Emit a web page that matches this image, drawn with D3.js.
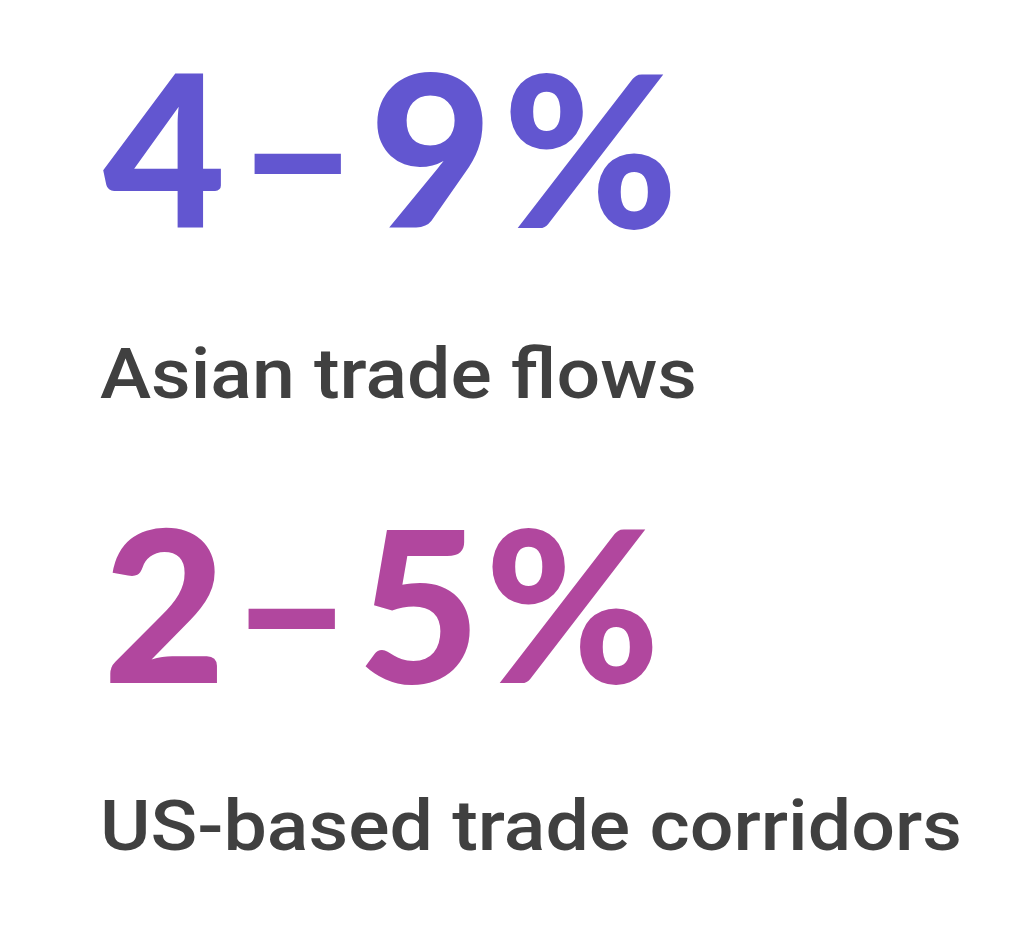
<!DOCTYPE html>
<html><head><meta charset="utf-8">
<script src="https://cdn.jsdelivr.net/npm/d3@7"></script>
<style>html,body{margin:0;padding:0;background:#fff;}</style>
</head><body>
<svg id="c" width="1024" height="925"></svg>
<script>
const rangeLow = [4, 2];
const rangeHigh = [9, 5];
const categories = ["Asian trade flows", "US-based trade corridors"];
const colors = ["#6256d0", "#b1479e"];

const svg = d3.select("#c");
const y = d3.scaleBand().domain(categories).range([0, 910]).paddingInner(0);
const left = 100;

const g = svg.selectAll("g.stat").data(categories).join("g")
  .attr("class", "stat")
  .attr("transform", d => `translate(${left},${y(d)})`);

g.append("text")
  .attr("x", 3)
  .attr("y", 228)
  .attr("font-family", "Lato, 'Open Sans', sans-serif")
  .attr("font-weight", 900)
  .attr("font-size", 212)
  .attr("fill", (d, i) => colors[i])
  .attr("textLength", (d, i) => i === 0 ? 575 : 557)
  .attr("lengthAdjust", "spacing")
  .text((d, i) => `${rangeLow[i]}–${rangeHigh[i]}%`);

g.append("text")
  .attr("x", 0)
  .attr("y", (d, i) => i === 0 ? 398 : 395)
  .attr("font-family", "Roboto, sans-serif")
  .attr("font-weight", 500)
  .attr("font-size", 70)
  .attr("fill", "#404040")
  .attr("textLength", (d, i) => i === 0 ? 597 : 862)
  .attr("lengthAdjust", "spacingAndGlyphs")
  .text(d => d);
</script>
</body></html>
